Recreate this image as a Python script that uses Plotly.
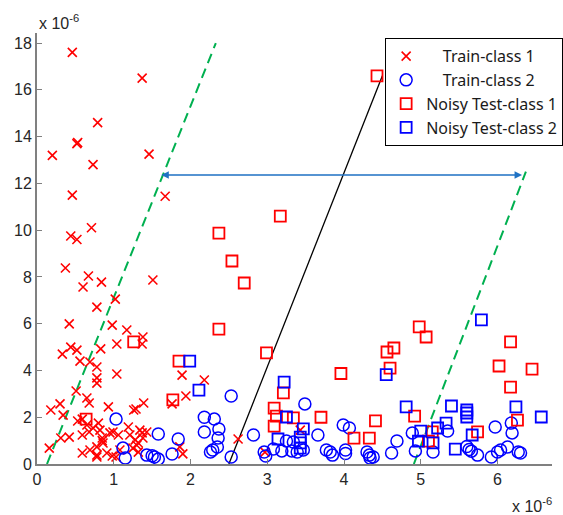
import plotly.graph_objects as go

# ---- data (units of 1e-6) ----
train1_x = [0.46,1.37,0.79,0.52,0.53,0.20,1.46,0.73,0.46,1.67,0.71,0.44,0.52,
            0.37,0.67,0.60,0.84,1.51,0.42,0.78,1.02,0.98,1.17,1.04,1.38,1.37,0.44,0.33,0.52,0.56,0.69,0.83,0.78,1.04,0.78,0.78,0.51,0.65,0.68,0.30,0.18,0.34,0.93,1.39,1.26,1.89,1.94,1.76,
            0.16,0.31,0.42,0.59,0.53,0.65,0.68,0.73,0.80,0.82,0.85,0.95,0.99,1.06,1.19,1.21,1.34,1.37,1.28,1.32,0.78,0.59,0.69,0.78,0.91,0.98,0.86,1.08,1.25,1.32,1.86,1.90,1.43,1.38,2.62,2.18,2.97,3.43,1.29,
            0.59,1.03,0.78,0.85,1.30]
train1_y = [17.6,16.5,14.6,13.7,13.75,13.2,13.25,12.8,11.5,11.45,10.1,9.75,9.6,
            8.38,8.04,7.57,7.78,7.87,5.99,6.71,7.05,5.94,5.73,5.13,5.43,5.13,5.0,4.7,4.87,4.4,4.36,4.92,4.15,3.85,3.68,3.46,3.12,2.82,2.61,2.57,2.31,2.09,2.44,2.61,2.31,3.8,2.91,2.57,
            0.68,1.11,1.15,1.92,1.84,1.67,1.37,1.54,1.75,1.45,1.11,1.33,1.37,1.24,1.58,1.24,1.45,1.33,1.03,0.90,0.73,0.47,0.60,0.38,0.47,0.34,0.90,0.60,0.68,0.51,0.73,0.43,1.37,1.11,1.07,3.59,0.51,1.45,2.35,
            1.24,0.30,0.30,1.0,0.8]

train2_x = [1.03,1.12,1.15,1.43,1.53,1.58,1.58,1.76,1.84,2.18,2.18,
            2.53,2.31,2.37,2.36,2.35,2.29,2.26,2.53,2.82,2.96,2.98,3.08,3.19,3.25,3.34,3.32,3.39,3.47,3.49,3.66,3.77,3.82,3.85,3.99,4.07,4.02,4.02,4.30,4.33,4.38,4.34,
            4.62,4.69,4.89,4.93,5.16,5.35,5.60,5.63,5.66,5.74,5.92,6.00,6.04,6.13,5.97,6.19,6.18,6.27,6.30,1.50]
train2_y = [1.92,0.68,0.26,0.38,0.30,0.21,1.28,0.43,1.07,2.0,1.37,
            2.91,1.92,1.50,1.11,0.73,0.60,0.51,0.30,1.24,0.51,0.34,0.64,0.56,0.98,0.94,0.56,0.51,0.60,2.57,1.24,0.60,0.51,0.38,1.67,1.54,0.60,0.45,0.51,0.38,0.30,0.26,
            0.47,0.98,1.33,0.56,0.51,1.41,0.75,0.62,0.55,0.38,0.30,0.51,0.60,0.73,1.58,1.33,1.75,0.51,0.47,0.35]

test1_x = [4.43,3.17,2.37,2.54,2.70,2.37,2.99,3.96,1.85,1.26,1.77,0.64,3.21,3.09,3.12,3.09,3.34,3.70,4.41,4.13,4.33,
           4.98,5.07,4.56,4.65,4.60,6.17,6.02,6.45,6.17,4.92,6.26,5.74,5.15,5.10]
test1_y = [16.6,10.6,9.87,8.68,7.74,5.77,4.75,3.87,4.4,5.22,2.74,1.92,3.04,2.39,2.05,1.62,1.97,2.0,1.84,1.11,1.11,
           5.86,5.43,4.79,4.96,4.10,5.22,4.19,4.06,3.29,2.05,1.88,1.37,1.37,0.98]

test2_x = [1.99,2.11,3.22,3.25,3.47,3.14,3.43,3.43,3.43,4.55,4.81,5.40,5.60,5.60,5.60,6.24,6.57,5.33,5.22,5.00,4.97,5.16,5.45,5.67,5.79]
test2_y = [4.4,3.16,3.5,2.01,1.5,1.07,1.15,0.90,0.68,3.82,2.44,2.48,2.31,2.18,2.01,2.44,2.01,1.75,1.54,1.41,0.98,0.90,0.64,1.24,6.16]

# boundary lines
green1_x = [0.13, 2.33]; green1_y = [0, 18.0]
green2_x = [4.91, 6.37]; green2_y = [0, 12.5]
black_x = [2.50, 4.50]; black_y = [0, 16.6]
arrow_y = 12.36; arrow_x0 = 1.60; arrow_x1 = 6.32

RED = "#ff0000"
BLUE = "#0000ff"
GREEN = "#00b050"

fig = go.Figure()
fig.add_trace(go.Scatter(x=green1_x, y=green1_y, mode="lines", showlegend=False,
                         line=dict(color=GREEN, width=2, dash="10px,6px")))
fig.add_trace(go.Scatter(x=green2_x, y=green2_y, mode="lines", showlegend=False,
                         line=dict(color=GREEN, width=2, dash="10px,6px")))
fig.add_trace(go.Scatter(x=black_x, y=black_y, mode="lines", showlegend=False,
                         line=dict(color="#000000", width=1.3)))

nb = "\u00a0"
fig.add_trace(go.Scatter(x=train1_x, y=train1_y, mode="markers", name=nb*4 + "Train-class 1",
                         marker=dict(symbol="x-thin", size=9, line=dict(color=RED, width=1.6), color=RED)))
fig.add_trace(go.Scatter(x=train2_x, y=train2_y, mode="markers", name=nb*4 + "Train-class 2",
                         marker=dict(symbol="circle-open", size=12, color=BLUE, line=dict(width=1.5))))
fig.add_trace(go.Scatter(x=test1_x, y=test1_y, mode="markers", name="Noisy Test-class 1",
                         marker=dict(symbol="square-open", size=11, color=RED, line=dict(width=1.8))))
fig.add_trace(go.Scatter(x=test2_x, y=test2_y, mode="markers", name="Noisy Test-class 2",
                         marker=dict(symbol="square-open", size=11, color=BLUE, line=dict(width=1.8))))

fig.add_annotation(x=arrow_x1, y=arrow_y, ax=arrow_x0, ay=arrow_y, xref="x", yref="y",
                   axref="x", ayref="y", showarrow=True, arrowhead=2, startarrowhead=2,
                   arrowside="end+start", arrowsize=1, arrowwidth=1.5, arrowcolor="#1f72c4", text="")

fig.add_annotation(x=0, y=1.025, xref="paper", yref="paper", xanchor="left", yanchor="middle",
                   text="x 10<sup>-6</sup>", showarrow=False,
                   font=dict(family="Liberation Sans, Arial", size=16, color="#262626"))
fig.add_annotation(x=1.004, y=-0.095, xref="paper", yref="paper", xanchor="right", yanchor="middle",
                   text="x 10<sup>-6</sup>", showarrow=False,
                   font=dict(family="Liberation Sans, Arial", size=16, color="#262626"))

axis_common = dict(showgrid=False, zeroline=False, showline=True, linecolor="#808080", linewidth=2,
                   ticks="inside", ticklen=5, tickwidth=1, tickcolor="#808080",
                   tickfont=dict(family="Liberation Sans, Arial", size=16, color="#262626"))
fig.update_xaxes(range=[0, 6.71], tickvals=[0, 1, 2, 3, 4, 5, 6], **axis_common)
fig.update_yaxes(range=[0, 18.43], tickvals=list(range(0, 19, 2)), **axis_common)

fig.update_layout(
    width=563, height=515,
    margin=dict(l=37, r=11, t=33, b=51, autoexpand=False),
    plot_bgcolor="white", paper_bgcolor="white",
    showlegend=True,
    legend=dict(x=0.676, y=0.988, xanchor="left", yanchor="top",
                bgcolor="white", bordercolor="#000000", borderwidth=1,
                font=dict(family="Noto Sans, sans-serif", size=16, color="#1a1a1a"),
                itemwidth=30),
)

fig.write_html("out.html")
